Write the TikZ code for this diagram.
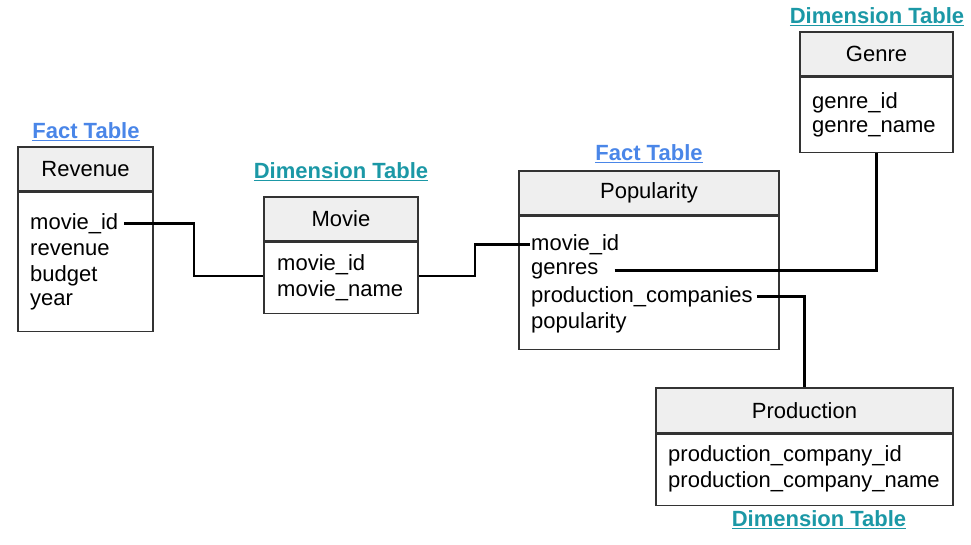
\documentclass[tikz,border=0pt]{standalone}
\usepackage{fontspec}
\setmainfont{Liberation Sans}
\usetikzlibrary{positioning,calc}
\definecolor{factblue}{HTML}{4A86E8}
\definecolor{dimteal}{RGB}{27,152,166}
\definecolor{headgray}{HTML}{EFEFEF}
\definecolor{boxline}{HTML}{333333}
\tikzset{
  headbox/.style={draw=boxline,line width=1.3pt,fill=headgray,minimum height=44pt,inner sep=0pt,font=\fontsize{22}{26}\selectfont},
  bodybox/.style={draw=boxline,line width=1.3pt,fill=white,inner sep=0pt},
  field/.style={anchor=west,inner sep=0pt,yshift=-1.5pt,font=\fontsize{22}{26}\selectfont},
  kind/.style={font=\bfseries\fontsize{22}{26}\selectfont},
  link/.style={line width=2.5pt,black}
}
\begin{document}
\begin{tikzpicture}[x=1pt,y=-1pt]
        \useasboundingbox (0,0) rectangle (971,544);

        % Revenue (fact)
        \node[kind,text=factblue] (revK) at (86,132) {\underline{Fact Table}};
        \node[headbox,minimum width=135pt] (revH) at (85.5,169) {Revenue};
        \node[bodybox,minimum width=135pt,minimum height=139pt,below=0pt of revH] (revB) {};
        \node[field] (revId) at (30,222) {movie\_id};
        \node[field] (revRev) at (30,248) {revenue};
        \node[field] (revBud) at (30,274) {budget};
        \node[field] (revYear) at (30,300) {year};

        % Movie (dimension)
        \node[kind,text=dimteal] (movK) at (341,172) {\underline{Dimension Table}};
        \node[headbox,minimum width=154pt] (movH) at (341,219) {Movie};
        \node[bodybox,minimum width=154pt,minimum height=71pt,below=0pt of movH] (movB) {};
        \node[field] (movId) at (277,263) {movie\_id};
        \node[field] (movName) at (277,289) {movie\_name};

        % Popularity (fact)
        \node[kind,text=factblue] (popK) at (649,154) {\underline{Fact Table}};
        \node[headbox,minimum width=260pt] (popH) at (649,193) {Popularity};
        \node[bodybox,minimum width=260pt,minimum height=133pt,below=0pt of popH] (popB) {};
        \node[field] (popId) at (531,243) {movie\_id};
        \node[field] (popGen) at (531,269) {genres};
        \node[field] (popProd) at (531,295) {production\_companies};
        \node[field] (popPop) at (531,321) {popularity};

        % Genre (dimension)
        \node[kind,text=dimteal] (genK) at (877,17) {\underline{Dimension Table}};
        \node[headbox,minimum width=153pt] (genH) at (876.5,54) {Genre};
        \node[bodybox,minimum width=153pt,minimum height=75pt,below=0pt of genH] (genB) {};
        \node[field] (genId) at (812,101) {genre\_id};
        \node[field] (genName) at (812,127) {genre\_name};

        % Production (dimension)
        \node[headbox,minimum width=297pt,minimum height=45pt] (prodH) at (804.5,410.5) {Production};
        \node[bodybox,minimum width=297pt,minimum height=71pt,below=0pt of prodH] (prodB) {};
        \node[field] (prodId) at (668,454) {production\_company\_id};
        \node[field] (prodName) at (668,480) {production\_company\_name};
        \node[kind,text=dimteal] (prodK) at (819,520) {\underline{Dimension Table}};

        % Links between tables
        \draw[link] ([xshift=6pt]revId.east) -| ($([xshift=6pt]revId.east)!0.5!(movB.west)$) |- ([yshift=2pt]movB.west);
        \draw[link] ([yshift=2pt]movB.east) -| ($([yshift=2pt]movB.east)!0.5!(popId.west)$) |- ([xshift=-1pt]popId.west);
        \draw[link] ([xshift=16pt]popGen.east) -| (genB.south);
        \draw[link] ([xshift=4pt]popProd.east) -| (prodH.north);
    \end{tikzpicture}
\end{document}
